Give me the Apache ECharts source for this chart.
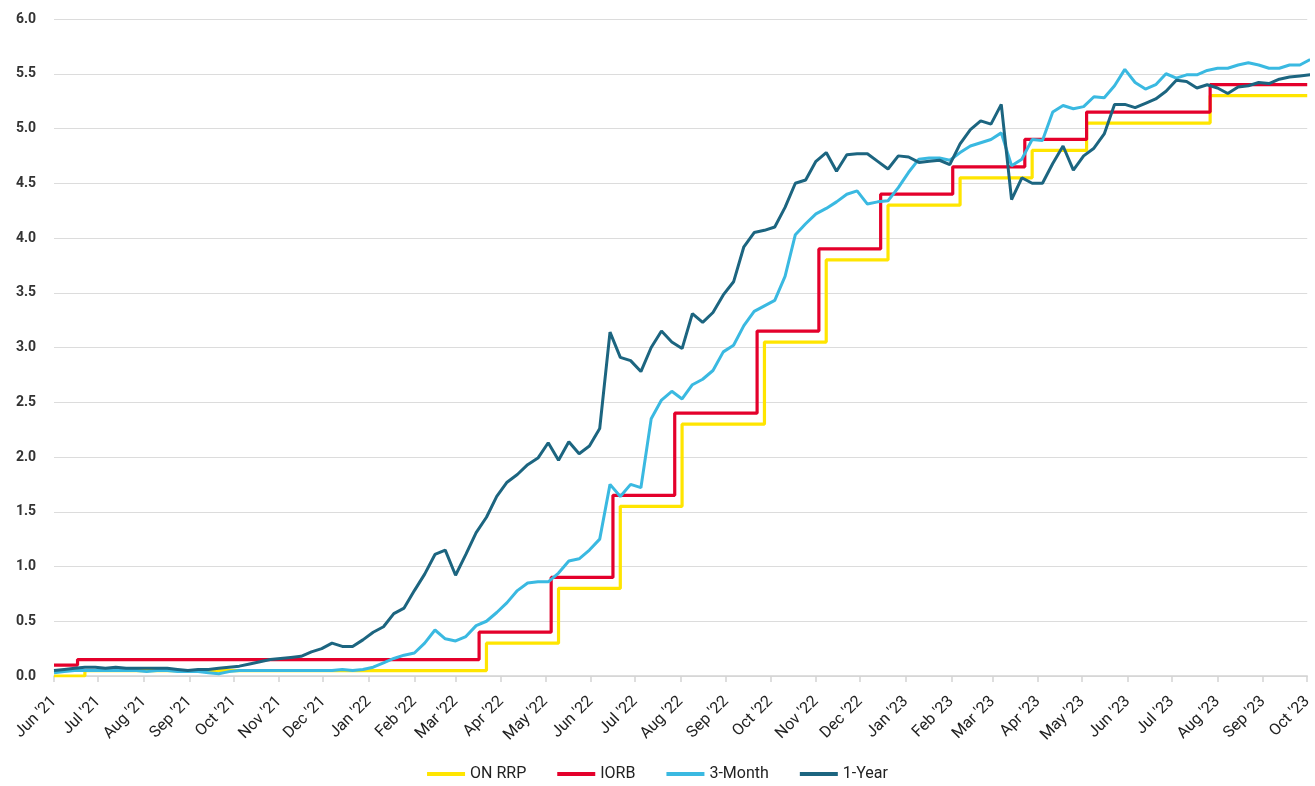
<!DOCTYPE html>
<html>
<head>
<meta charset="utf-8">
<script src="https://cdn.jsdelivr.net/npm/echarts@6/dist/echarts.min.js"></script>
<style>
html,body{margin:0;padding:0;background:#fff;}
#chart{width:1315px;height:786px;}
</style>
</head>
<body>
<div id="chart"></div>
<script>
// ---- Data ----
const monthNames = ['Jan','Feb','Mar','Apr','May','Jun','Jul','Aug','Sep','Oct','Nov','Dec'];
const axisStart = '2021-06-01';
const axisEnd = '2023-10-01';
const weeklyStart = [2021, 5, 1]; // first weekly observation (Jun 1, 2021), one value per 7 days

// Policy rates: [date the rate took effect, rate]
const iorb = [
  ['2021-06-01', 0.10], ['2021-06-17', 0.15], ['2022-03-17', 0.40], ['2022-05-05', 0.90],
  ['2022-06-16', 1.65], ['2022-07-28', 2.40], ['2022-09-22', 3.15], ['2022-11-03', 3.90],
  ['2022-12-15', 4.40], ['2023-02-02', 4.65], ['2023-03-23', 4.90], ['2023-05-04', 5.15],
  ['2023-07-27', 5.40], ['2023-10-01', 5.40]
];
const onRrp = [
  ['2021-06-01', 0.00], ['2021-06-22', 0.05], ['2022-03-22', 0.30], ['2022-05-10', 0.80],
  ['2022-06-21', 1.55], ['2022-08-02', 2.30], ['2022-09-27', 3.05], ['2022-11-08', 3.80],
  ['2022-12-20', 4.30], ['2023-02-07', 4.55], ['2023-03-28', 4.80], ['2023-05-04', 5.05],
  ['2023-07-27', 5.30], ['2023-10-01', 5.30]
];

// Weekly yields
const threeMonth = [
  0.03,0.04,0.05,0.05,0.05,0.05,0.05,0.05,0.05,0.04,
  0.05,0.05,0.04,0.04,0.04,0.03,0.02,0.04,0.05,0.05,
  0.05,0.05,0.05,0.05,0.05,0.05,0.05,0.05,0.06,0.05,
  0.06,0.08,0.12,0.16,0.19,0.21,0.30,0.42,0.34,0.32,
  0.36,0.46,0.50,0.58,0.67,0.78,0.85,0.86,0.86,0.94,
  1.05,1.07,1.15,1.25,1.75,1.64,1.75,1.72,2.35,2.52,
  2.60,2.53,2.66,2.71,2.79,2.96,3.02,3.20,3.33,3.38,
  3.43,3.65,4.03,4.13,4.22,4.27,4.33,4.40,4.43,4.31,
  4.33,4.34,4.46,4.60,4.72,4.73,4.73,4.71,4.78,4.84,
  4.87,4.90,4.96,4.66,4.72,4.90,4.89,5.15,5.21,5.18,
  5.20,5.29,5.28,5.39,5.54,5.42,5.36,5.40,5.50,5.46,
  5.49,5.49,5.53,5.55,5.55,5.58,5.60,5.58,5.55,5.55,
  5.58,5.58,5.63
];
const oneYear = [
  0.05,0.06,0.07,0.08,0.08,0.07,0.08,0.07,0.07,0.07,
  0.07,0.07,0.06,0.05,0.06,0.06,0.07,0.08,0.09,0.11,
  0.13,0.15,0.16,0.17,0.18,0.22,0.25,0.30,0.27,0.27,
  0.33,0.40,0.45,0.57,0.62,0.78,0.93,1.11,1.15,0.92,
  1.11,1.31,1.45,1.64,1.77,1.84,1.93,1.99,2.13,1.97,
  2.14,2.03,2.10,2.26,3.14,2.91,2.88,2.78,3.00,3.15,
  3.05,2.99,3.31,3.23,3.32,3.48,3.60,3.92,4.05,4.07,
  4.10,4.28,4.50,4.53,4.70,4.78,4.61,4.76,4.77,4.77,
  4.70,4.63,4.75,4.74,4.69,4.70,4.71,4.67,4.86,4.99,
  5.07,5.04,5.22,4.35,4.55,4.50,4.50,4.68,4.84,4.62,
  4.75,4.82,4.95,5.22,5.22,5.19,5.23,5.27,5.34,5.44,
  5.43,5.37,5.40,5.37,5.32,5.38,5.39,5.42,5.41,5.45,
  5.47,5.48,5.49
];

const legendNames = ['ON RRP', 'IORB', '3-Month', '1-Year'];
const colors = ['#FFE500', '#E4002B', '#3AB9E1', '#1C6580'];

// ---- Build ----
function weekly(values) {
  const t0 = new Date(weeklyStart[0], weeklyStart[1], weeklyStart[2]).getTime();
  return values.map((v, i) => [t0 + i * 7 * 86400000, v]);
}

const chart = echarts.init(document.getElementById('chart'));
const baseFont = 'Roboto';
chart.setOption({
  animation: false,
  color: colors,
  grid: { left: 54, right: 3, top: 19, bottom: 110, containLabel: false },
  legend: {
    bottom: 4,
    padding: 0,
    left: 'center',
    data: legendNames,
    icon: 'rect',
    itemWidth: 38,
    itemHeight: 4,
    itemGap: 31,
    textStyle: { fontFamily: baseFont, fontSize: 16, color: '#222' }
  },
  xAxis: {
    type: 'time',
    min: axisStart,
    max: axisEnd,
    splitNumber: 28,
    minInterval: 28 * 86400000,
    maxInterval: 31 * 86400000,
    axisLine: { show: true, lineStyle: { color: '#d4d4d4', width: 1.5 } },
    axisTick: { show: true, length: 6, lineStyle: { color: '#d4d4d4', width: 1.5 } },
    splitLine: { show: false },
    axisLabel: {
      rotate: 45,
      interval: 0,
      hideOverlap: false,
      margin: 23,
      fontFamily: baseFont,
      fontSize: 16,
      color: '#222',
      formatter: function (v) {
        const d = new Date(v);
        return monthNames[d.getMonth()] + " '" + String(d.getFullYear()).slice(2);
      }
    }
  },
  yAxis: {
    type: 'value',
    min: 0,
    max: 6,
    interval: 0.5,
    axisLine: { show: false },
    axisTick: { show: false },
    splitLine: { lineStyle: { color: '#dcdcdc', width: 1.2 } },
    axisLabel: {
      margin: 18,
      fontFamily: baseFont,
      fontSize: 14,
      fontWeight: 'bold',
      color: '#333',
      formatter: function (v) { return v.toFixed(1); }
    }
  },
  series: [
    { name: legendNames[0], type: 'line', step: 'end', data: onRrp, showSymbol: false, lineStyle: { width: 3.2 }, z: 2 },
    { name: legendNames[1], type: 'line', step: 'end', data: iorb, showSymbol: false, lineStyle: { width: 3.2 }, z: 3 },
    { name: legendNames[2], type: 'line', data: weekly(threeMonth), showSymbol: false, lineStyle: { width: 3 }, z: 4 },
    { name: legendNames[3], type: 'line', data: weekly(oneYear), showSymbol: false, lineStyle: { width: 3 }, z: 5 }
  ]
});
</script>
</body>
</html>
